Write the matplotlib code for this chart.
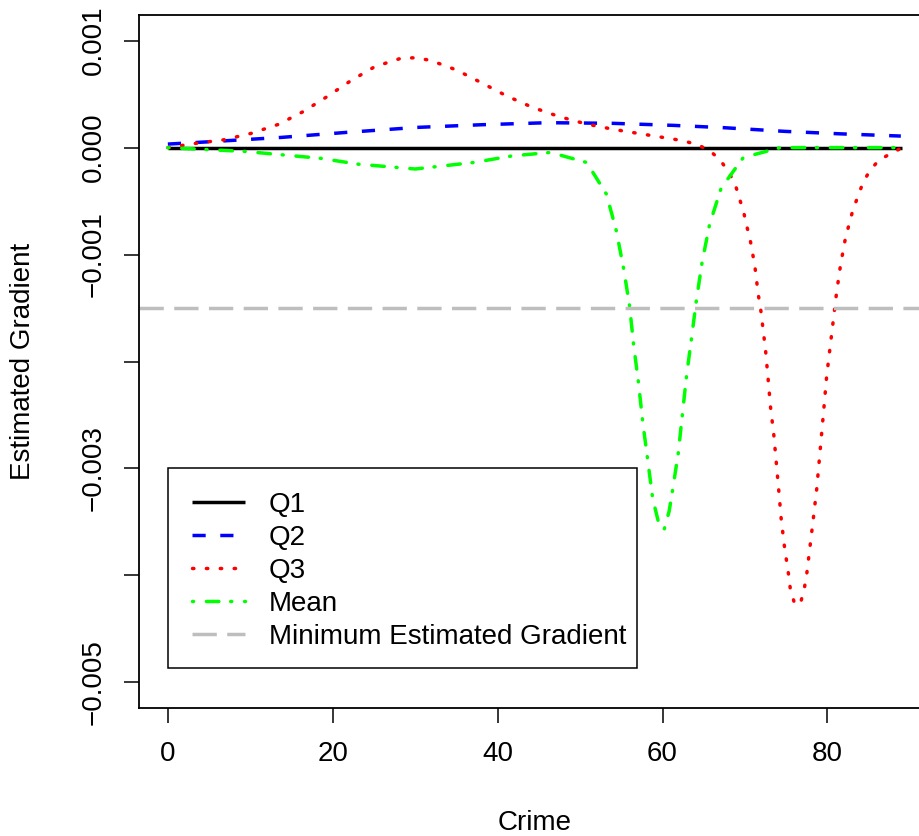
import numpy as np
import matplotlib
matplotlib.use("Agg")
import matplotlib.pyplot as plt
from matplotlib.patches import Rectangle

# ---- data ----
q1_x = [0, 89.1]
q1_y = [0.0, 0.0]

q2_x = [0, 5.1, 13.7, 21.6, 30.2, 38.1, 46.1, 54.0, 61.3, 67.5, 74.8, 81.5, 88.9]
q2_y = [0.000033, 0.000055, 0.000095, 0.000142, 0.000189, 0.000214, 0.000233,
        0.000227, 0.000208, 0.000186, 0.000152, 0.000129, 0.000108]

q3_x = [0, 3.4, 6.8, 10.1, 13.4, 16.4, 19.3, 22.2, 25.1, 28.3, 30.0, 31.8, 35.0,
        38.1, 41.1, 44.2, 47.5, 50.8, 54.1, 57.5, 60.8, 62.5, 64.3, 65.8, 67.0,
        68.0, 68.8, 69.3, 69.8, 70.2, 70.6, 70.9, 71.2, 71.4, 71.6, 71.9, 72.1,
        72.5, 72.8, 73.1, 73.5, 73.8, 74.1, 74.4, 74.8, 75.3, 75.5, 76.0, 76.4,
        76.8, 77.2, 77.5, 77.9, 78.3, 78.7, 79.0, 79.3, 79.6, 79.9, 80.3, 80.7,
        81.1, 81.6, 82.2, 83.1, 84.3, 85.1, 86.2, 87.8, 89.1]
q3_y = [0.0, 0.00004, 0.000073, 0.000133, 0.000217, 0.000336, 0.000476, 0.000626,
        0.000757, 0.000836, 0.00084, 0.000817, 0.000726, 0.000604, 0.000483,
        0.000377, 0.000289, 0.00022, 0.00017, 0.000127, 0.000086, 0.000064,
        0.000026, -0.000033, -0.000117, -0.000227, -0.00034, -0.00047, -0.00059,
        -0.00073, -0.00085, -0.00098, -0.00111, -0.00124, -0.00137, -0.00151,
        -0.00164, -0.0019, -0.00216, -0.00243, -0.00269, -0.00295, -0.00321,
        -0.00348, -0.00374, -0.004, -0.00413, -0.00426, -0.00428, -0.00424,
        -0.00412, -0.00398, -0.00372, -0.00346, -0.00319, -0.00293, -0.00267,
        -0.00241, -0.00214, -0.00188, -0.00162, -0.00136, -0.00109, -0.00084,
        -0.00058, -0.00033, -0.00022, -0.00012, -0.00005, 0.0]

mean_x = [0, 9.4, 18.5, 23.1, 30.0, 37.1, 41.8, 46.4, 50.8, 53.2, 54.4, 55.3,
          56.0, 56.5, 57.1, 57.6, 58.2, 58.8, 59.5, 60.2, 60.8, 61.2, 61.9, 62.4,
          62.9, 63.5, 64.1, 64.8, 65.7, 67.1, 69.8, 74.3, 89.1]
mean_y = [0.0, -0.000036, -0.0001, -0.000155, -0.0002, -0.000139, -0.000077,
          -0.000045, -0.000139, -0.000436, -0.00078, -0.00114, -0.00148,
          -0.00185, -0.00221, -0.00257, -0.00292, -0.00328, -0.00350, -0.00357,
          -0.00340, -0.00321, -0.00286, -0.0025, -0.00214, -0.00179, -0.00143,
          -0.00107, -0.00072, -0.00038, -0.000092, 0.0, 0.0]

min_gradient = -0.0015

x_ticks = [0, 20, 40, 60, 80]
y_ticks = [-0.005, -0.004, -0.003, -0.002, -0.001, 0.0, 0.001]
y_tick_labels = ["\u22120.005", "", "\u22120.003", "", "\u22120.001", "0.000", "0.001"]

plt.rcParams['font.family'] = ['Liberation Sans', 'DejaVu Sans']

W, H = 919, 836
fig = plt.figure(figsize=(W / 100, H / 100), dpi=100)
# plot region runs slightly past the right edge (cropped in the reference)
left, right, top, bottom = 138.5, 931, 15, 708
ax = fig.add_axes([left / W, 1 - bottom / H, (right - left) / W, (bottom - top) / H])

lw = 2.5
fs = 20
ax.plot(q1_x, q1_y, color='black', lw=lw, solid_capstyle='butt', label='Q1')
ax.plot(q2_x, q2_y, color='blue', lw=lw, dashes=(3.8, 4.2), dash_capstyle='butt', label='Q2')
ax.plot(q3_x, q3_y, color='red', lw=lw, dashes=(0.4, 3.6), dash_capstyle='round', label='Q3')
ax.plot(mean_x, mean_y, color='#00ff00', lw=lw, dashes=(0.3, 3.7, 3.6, 3.4),
        dash_capstyle='round', label='Mean')
ax.axhline(min_gradient, color='#bebebe', lw=lw, dashes=(7, 3), dash_capstyle='butt',
           label='Minimum Estimated Gradient')

ax.set_xlim(-3.56, 92.56)
ax.set_ylim(-0.00524, 0.00124)

ax.set_xticks(x_ticks)
ax.set_xticklabels([str(v) for v in x_ticks])
ax.set_yticks(y_ticks)
ax.set_yticklabels(y_tick_labels, rotation=90, va='center')

ax.tick_params(axis='both', direction='out', length=11, width=1.1, labelsize=fs, color='black')
ax.tick_params(axis='x', pad=13)
ax.tick_params(axis='y', pad=12)
for s in ax.spines.values():
    s.set_linewidth(1.3)
    s.set_color('black')

fig.text(535 / W, 1 - 823 / H, 'Crime', ha='center', va='center', fontsize=fs)
fig.text(23 / W, 1 - 361.5 / H, 'Estimated Gradient', ha='center', va='center',
         rotation=90, fontsize=fs)

# legend box drawn separately (R-style: wider left padding than right)
box = Rectangle((168 / W, 1 - 668 / H), (637 - 168) / W, (668 - 468) / H,
                transform=fig.transFigure, facecolor='white',
                edgecolor='black', lw=1.1, zorder=4, clip_on=False)
ax.add_patch(box)
leg = ax.legend(loc='upper left', bbox_to_anchor=(192 / W, 1 - 492 / H),
                bbox_transform=fig.transFigure, fontsize=fs, frameon=False,
                handlelength=1.9, handletextpad=0.86, labelspacing=0.25,
                borderpad=0, borderaxespad=0)
leg.set_zorder(5)

fig.savefig('out.png', dpi=100)
